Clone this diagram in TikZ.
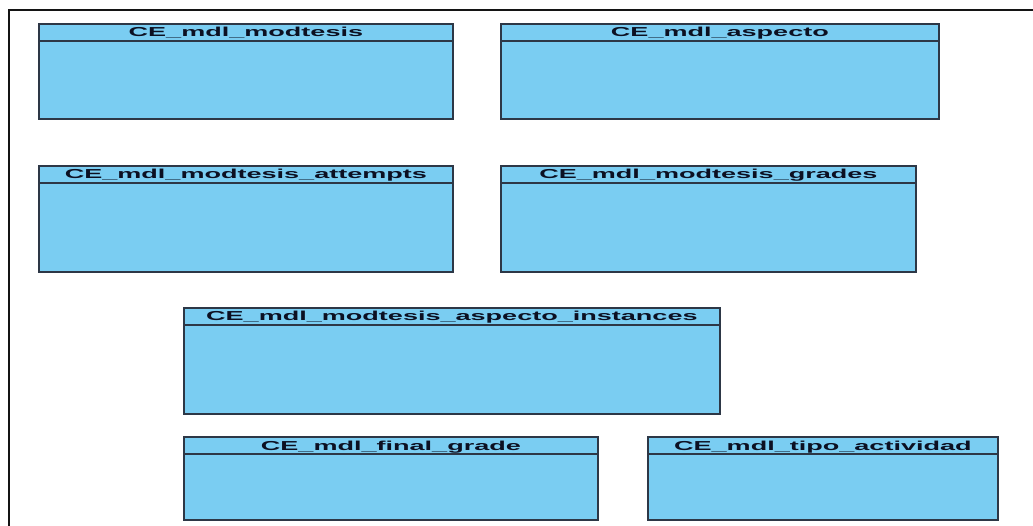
\documentclass[tikz,border=0pt]{standalone}
\usepackage{fontspec}
\setmainfont{Liberation Sans}
\definecolor{clsfill}{RGB}{122,205,242}
\definecolor{clsline}{RGB}{45,55,70}
\definecolor{frameline}{RGB}{20,20,20}
\definecolor{titletext}{RGB}{12,16,34}
\tikzset{
  clsbox/.style={draw=clsline, line width=1.8pt, fill=clsfill, anchor=north west, inner sep=0pt},
  divider/.style={draw=clsline, line width=1.2pt},
  clstitle/.style={font=\fontsize{13}{14}\selectfont\bfseries, text=titletext, inner sep=0pt, anchor=base},
  frame/.style={draw=frameline, line width=1.8pt}
}
\newcommand{\clsname}[1]{\scalebox{2.08}[1]{#1}}
\begin{document}
\begin{tikzpicture}[x=1pt,y=-1pt]
\useasboundingbox (0,0) rectangle (1033,526);
% frame
\coordinate (ftl) at (9,10);
\coordinate (ftr) at (1034,10);
\coordinate (fbl) at (9,527);
\draw[frame] (ftr) -- (ftl) -- (fbl);
% boxes
\node[clsbox, minimum width=414pt, minimum height=95pt] (b1) at (38,23) {};
\node[clsbox, minimum width=438pt, minimum height=95pt] (b2) at (500,23) {};
\node[clsbox, minimum width=414pt, minimum height=106pt] (b3) at (38,165) {};
\node[clsbox, minimum width=415pt, minimum height=106pt] (b4) at (500,165) {};
\node[clsbox, minimum width=536pt, minimum height=106pt] (b5) at (183,307) {};
\node[clsbox, minimum width=414pt, minimum height=83pt] (b6) at (183,436) {};
\node[clsbox, minimum width=350pt, minimum height=83pt] (b7) at (647,436) {};
% dividers
\foreach \b in {b1,b2,b3,b4,b5,b6,b7}{
  \draw[divider] ([yshift=-18pt]\b.north west) -- ([yshift=-18pt]\b.north east);
}
% titles
\node[clstitle] (t1) at ([yshift=-14pt]b1.north) {\clsname{CE\_mdl\_modtesis}};
\node[clstitle] (t2) at ([yshift=-14pt]b2.north) {\clsname{CE\_mdl\_aspecto}};
\node[clstitle] (t3) at ([yshift=-14pt]b3.north) {\clsname{CE\_mdl\_modtesis\_attempts}};
\node[clstitle] (t4) at ([yshift=-14pt]b4.north) {\clsname{CE\_mdl\_modtesis\_grades}};
\node[clstitle] (t5) at ([yshift=-14pt]b5.north) {\clsname{CE\_mdl\_modtesis\_aspecto\_instances}};
\node[clstitle] (t6) at ([yshift=-14pt]b6.north) {\clsname{CE\_mdl\_final\_grade}};
\node[clstitle] (t7) at ([yshift=-14pt]b7.north) {\clsname{CE\_mdl\_tipo\_actividad}};
\end{tikzpicture}
\end{document}
